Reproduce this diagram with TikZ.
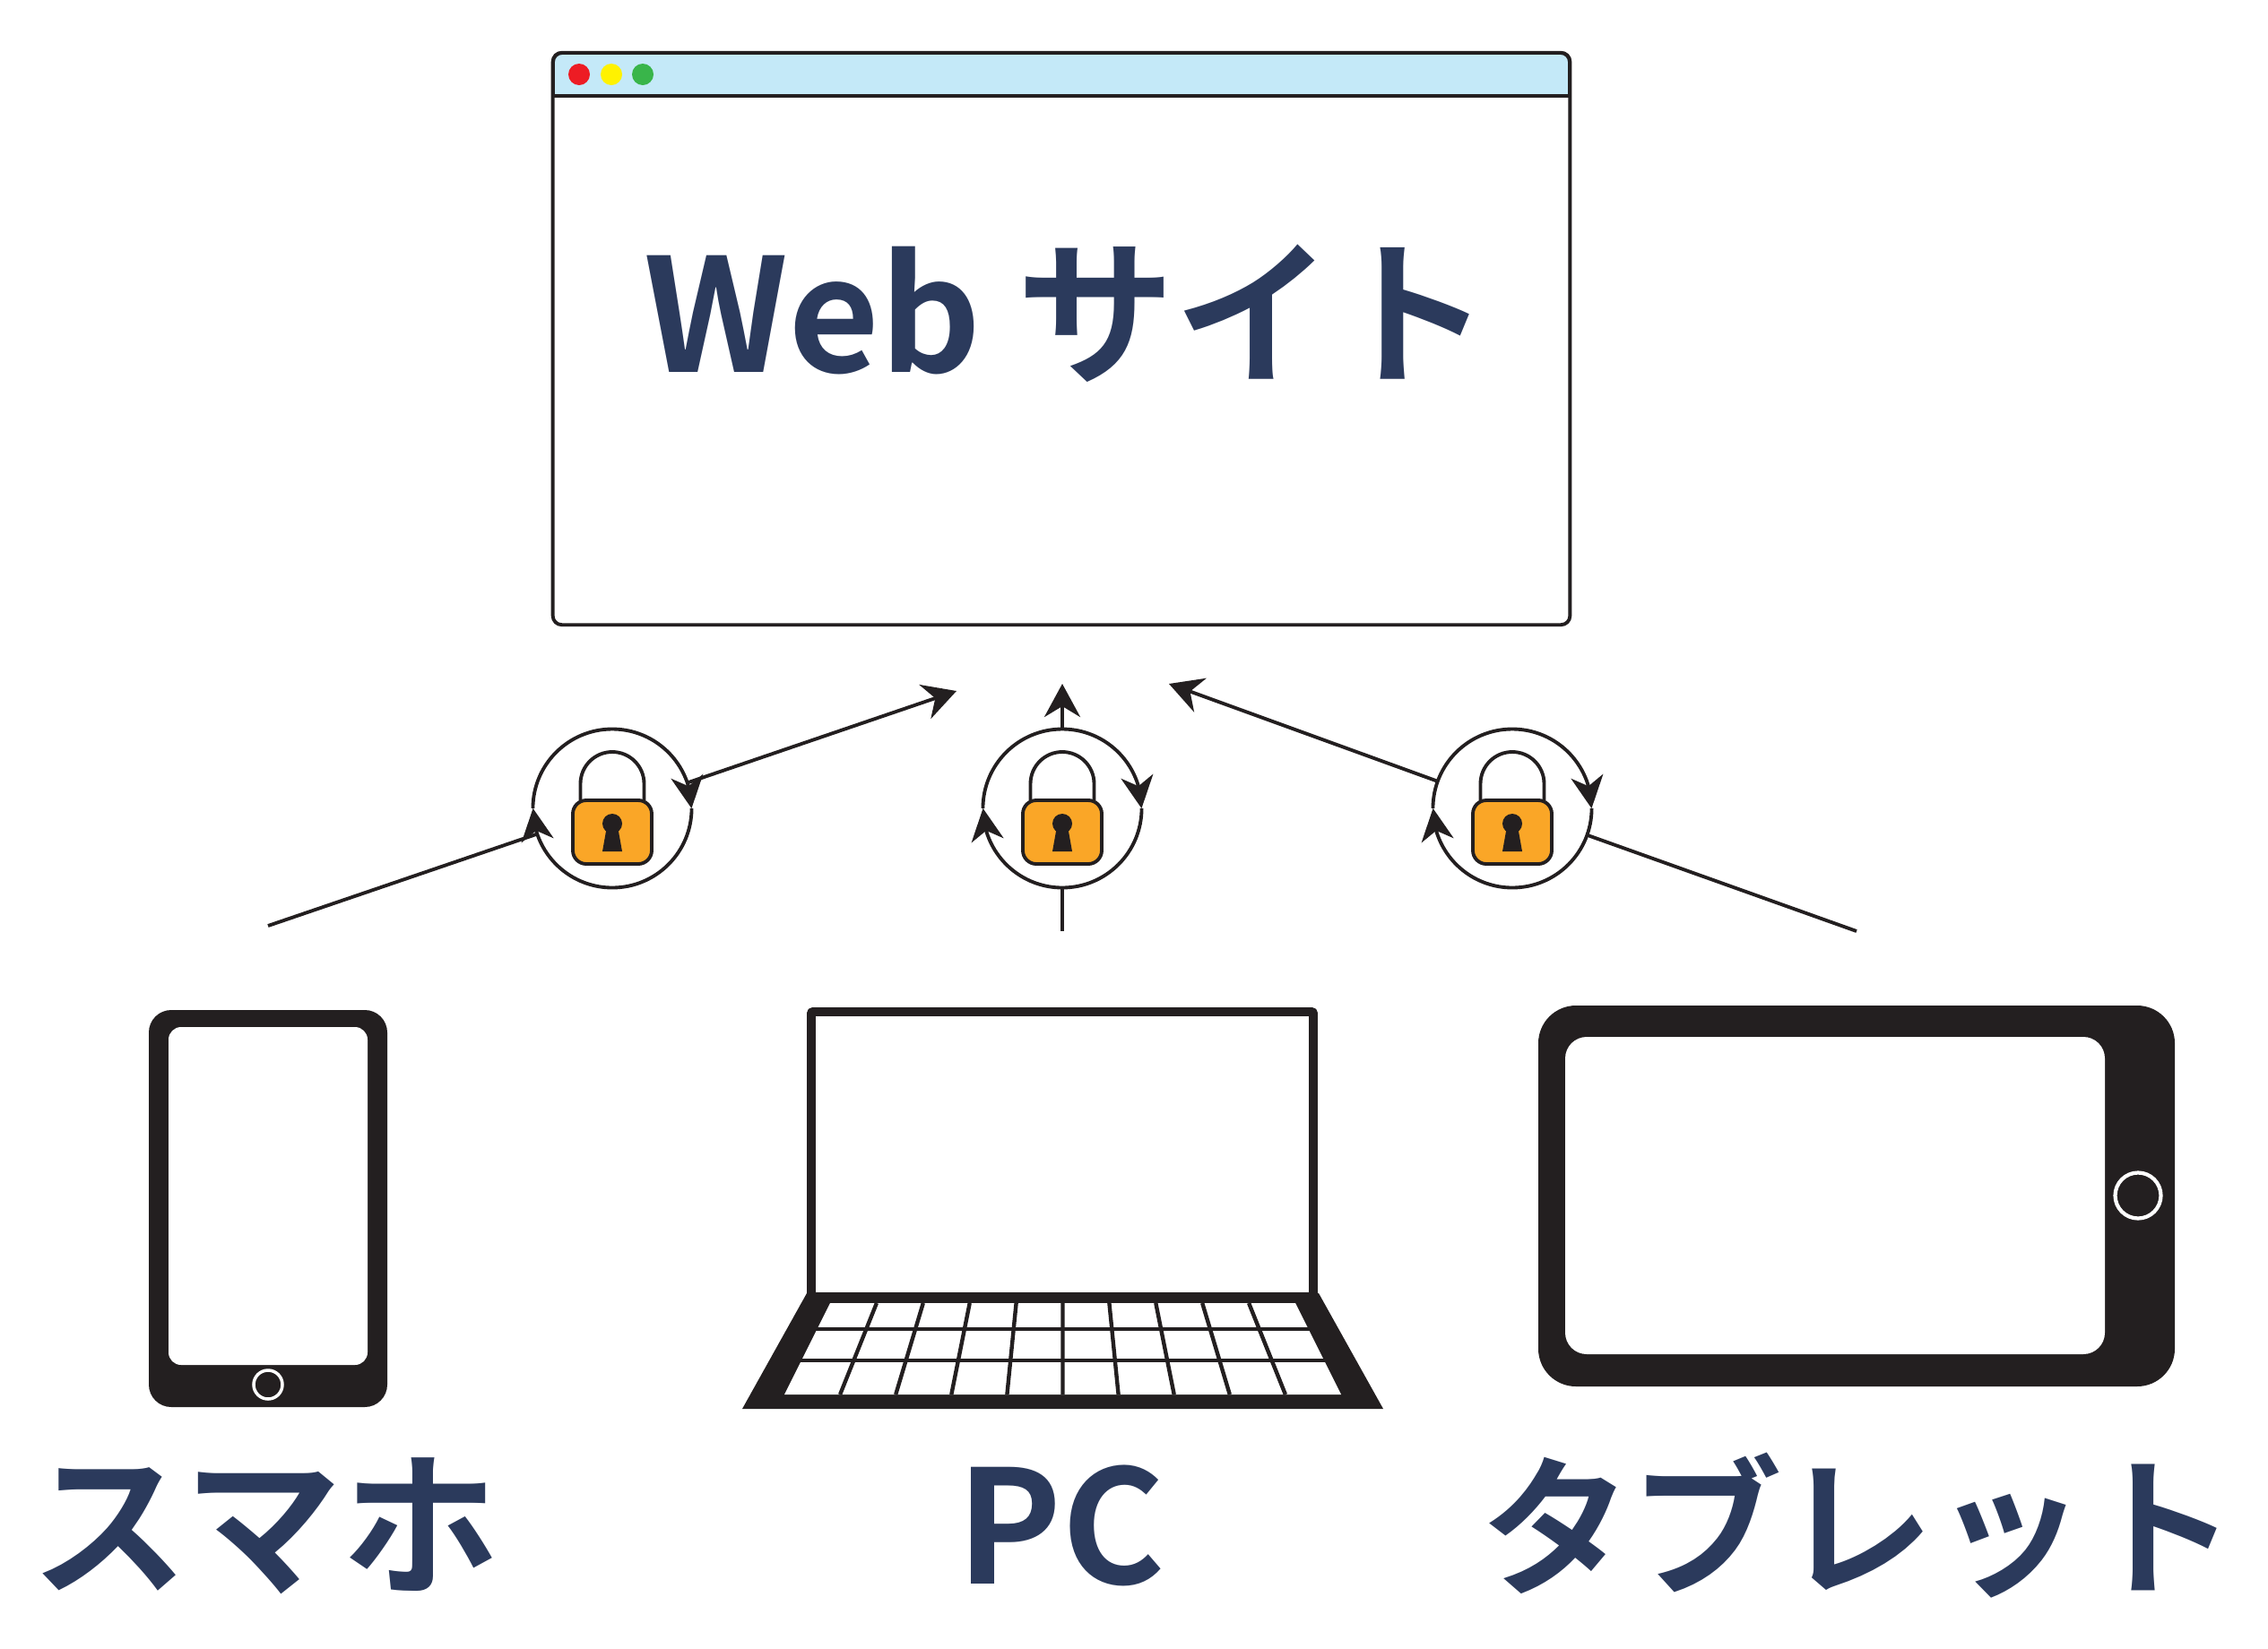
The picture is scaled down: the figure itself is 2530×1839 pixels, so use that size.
\documentclass[tikz,border=0pt]{standalone}
\usepackage{fontspec}
\usepackage{tikz}
\usetikzlibrary{arrows.meta,bending}
\newfontfamily\jpfont{Noto Sans CJK JP Bold}
\definecolor{ink}{HTML}{231F20}
\definecolor{navy}{HTML}{2B3A5C}
\definecolor{barblue}{HTML}{C4E9F8}
\definecolor{lockorange}{HTML}{FAA627}
\definecolor{dotred}{HTML}{ED1C24}
\definecolor{dotyellow}{HTML}{FFF200}
\definecolor{dotgreen}{HTML}{39B54A}
\tikzset{
  heavy/.style={line width=1.1pt, draw=ink},
  label/.style={anchor=base, text=navy, inner sep=0pt, font=\jpfont\fontsize{50}{50}\selectfont},
  ringnode/.style={circle, minimum size=1.77cm, inner sep=0pt, outer sep=0pt},
  link/.style={heavy, -{Stealth[length=3.7mm, width=4mm, inset=1.2mm, flex]}},
  turn/.style={heavy, -{Stealth[length=3.6mm, width=3.6mm, inset=1.1mm, flex]}},
  keyline/.style={ink, line width=1.25pt}
}

\begin{document}
\begin{tikzpicture}[x=.01cm, y=-.01cm]
      \useasboundingbox (0,0) rectangle (2530,1839);
      % browser window
      \node (window) at (1184,378) [heavy, draw, fill=white, rounded corners=.1cm, minimum width=11.34cm, minimum height=6.38cm, inner sep=0pt] {};
      \draw[heavy, fill=barblue] (617,107) [rounded corners=.1cm] -- (617,59) -- (1751,59) [sharp corners] -- (1751,107) -- cycle;
      \foreach \x/\c in {646/dotred, 682/dotyellow, 717/dotgreen} {
        \fill[\c] (\x,83) circle (12);
      }
      \node (webtitle) at (1190,415) [label] {Web サイト};
      % locks with their rings
      \foreach \j in {683,1185,1687} {
        \node (ring\j) at (\j,902) [ringnode] {};
        \draw[turn] (ring\j.west) arc (180:360:88.5);
        \draw[turn] (ring\j.east) arc (0:180:88.5);
        \begin{scope}[shift={(\j,902)}]
          \draw[heavy] (-35.5,-9) -- (-35.5,-27.5) arc (180:360:35.5) -- (35.5,-9);
          \draw[heavy, fill=lockorange, rounded corners=.15cm] (-44,-9) rectangle (44,62);
          \fill[ink] (0,17) circle (11);
          \fill[ink] (-6,20) -- (6,20) -- (11,48) -- (-11,48) -- cycle;
        \end{scope}
      }
      % connectors
      \coordinate (phonefoot) at (299,1033);
      \coordinate (phonehead) at (1067,771);
      \coordinate (pcfoot) at (1185,1039);
      \coordinate (pchead) at (1185,763);
      \coordinate (tabletfoot) at (2071,1039);
      \coordinate (tablethead) at (1304,763);
      \draw[heavy] (phonefoot) -- (ring683);
      \draw[link] (ring683) -- (phonehead);
      \draw[heavy] (pcfoot) -- (ring1185);
      \draw[link] (ring1185) -- (pchead);
      \draw[heavy] (tabletfoot) -- (ring1687);
      \draw[link] (ring1687) -- (tablethead);
      % phone
      \fill[ink, rounded corners=.25cm] (166,1127) rectangle (432,1570);
      \fill[white, rounded corners=.14cm] (188,1146) rectangle (410,1523);
      \draw[white, line width=1pt] (299,1545) circle (16);
      % laptop
      \draw[ink, line width=2.8pt, fill=white, rounded corners=.02cm] (905,1129) rectangle (1465,1447);
      \fill[ink] (900,1443) -- (1471,1443) -- (1543,1572) -- (828,1572) -- cycle;
      \fill[white] (926,1454) -- (1445,1454) -- (1496,1556) -- (875,1556) -- cycle;
      \foreach \i in {1,...,9} {
        \draw[keyline] ({926+\i*51.9},1454) -- ({875+\i*62.1},1556);
      }
      \draw[keyline] (895,1483) -- (1476,1483) (875,1518) -- (1496,1518);
      % tablet
      \fill[ink, rounded corners=.42cm] (1716,1122) rectangle (2426,1547);
      \fill[white, rounded corners=.24cm] (1746,1157) rectangle (2348,1511);
      \draw[white, line width=1.2pt] (2385,1334) circle (25.5);
      % device names
      \node (phonename) at (296,1767) [label] {スマホ};
      \node (pcname) at (1184,1767) [label] {PC};
      \node (tabletname) at (2073,1767) [label, font=\jpfont\fontsize{48}{48}\selectfont] {タブレット};
\end{tikzpicture}
\end{document}
